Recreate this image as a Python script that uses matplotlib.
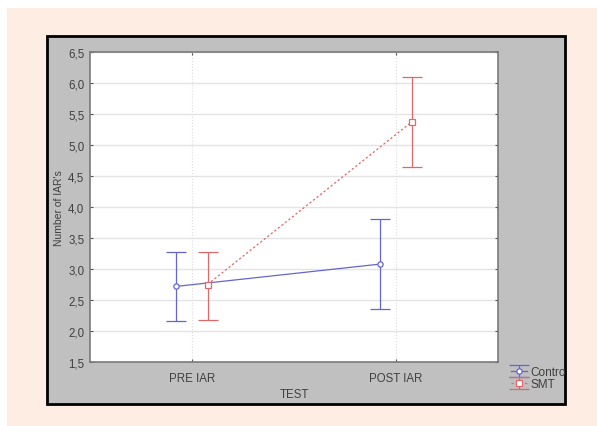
import matplotlib.pyplot as plt
from matplotlib.patches import Rectangle

plt.rcParams['font.family'] = ['Liberation Sans', 'DejaVu Sans']

# data
tests = ["PRE IAR", "POST IAR"]
control_mean = [2.72, 3.08]
control_low = [2.16, 2.35]
control_high = [3.28, 3.81]
smt_mean = [2.75, 5.37]
smt_low = [2.17, 4.64]
smt_high = [3.28, 6.10]
y_ticks = [1.5, 2.0, 2.5, 3.0, 3.5, 4.0, 4.5, 5.0, 5.5, 6.0, 6.5]

W, H = 597, 427
fig = plt.figure(figsize=(W / 100, H / 100), dpi=100, facecolor='white')

# peach panel and grey frame
fig.add_artist(Rectangle((7 / W, 0), 1, 1 - 9 / H, transform=fig.transFigure,
                         facecolor='#fdede3', edgecolor='none', zorder=0))
frame = Rectangle((47 / W, 1 - 405 / H), 518 / W, 368 / H, transform=fig.transFigure,
                  facecolor='#c0c0c0', edgecolor='black', linewidth=2, zorder=0)
fig.add_artist(frame)

ax = fig.add_axes([90 / W, 1 - 363 / H, 408 / W, 310 / H])
ax.set_facecolor('white')

blue = '#6565d0'
red = '#dc6a6a'
text_col = '#404040'
off = 0.076
x = list(range(len(tests)))

def draw(xs, mean, low, high, color, marker, ls, label):
	err = [[m - l for m, l in zip(mean, low)], [h - m for m, h in zip(mean, high)]]
	return ax.errorbar(xs, mean, yerr=err, color=color, marker=marker, linestyle=ls,
	                   linewidth=0.9, markersize=3.8, markerfacecolor='white',
	                   markeredgecolor=color, markeredgewidth=0.9,
	                   capsize=7.5, capthick=0.9, elinewidth=0.9, label=label, zorder=3)

h1 = draw([i - off for i in x], control_mean, control_low, control_high, blue, 'o', '-', 'Control')
h2 = draw([i + off for i in x], smt_mean, smt_low, smt_high, red, 's', (0, (1.8, 1.8)), 'SMT')

ax.set_xlim(-0.5, 1.5)
ax.set_ylim(1.5, 6.5)
ax.set_xticks(x)
ax.set_xticklabels(tests)
ax.set_yticks(y_ticks)
ax.set_yticklabels([f"{v:.1f}".replace('.', ',') for v in y_ticks])
ax.grid(axis='y', color='#e4e4e4', linewidth=1.0, zorder=1)
ax.grid(axis='x', color='#dcdcdc', linewidth=0.8, linestyle=':', zorder=1)
ax.set_axisbelow(True)

ax.tick_params(axis='both', direction='in', length=2.5, width=0.8, color='#555555',
               labelsize=8.3, labelcolor=text_col, top=True, right=True, pad=4)
ax.tick_params(axis='x', pad=7)
for s in ax.spines.values():
	s.set_color('#7a7a7a')
	s.set_linewidth(1.2)

ax.set_ylabel("Number of IAR's", fontsize=7.5, color=text_col, labelpad=3)
ax.set_xlabel("TEST", fontsize=8.3, color=text_col, labelpad=3)

leg = ax.legend(handles=[h1, h2], loc='upper left', bbox_to_anchor=(503 / W, 1 - 359 / H),
                bbox_transform=fig.transFigure, frameon=False, fontsize=8.5,
                handlelength=1.3, handletextpad=0.35, labelspacing=0.0, borderpad=0.2)
for t in leg.get_texts():
	t.set_color(text_col)
	t.set_clip_path(frame)

fig.savefig('out.png', dpi=100, facecolor='white')
